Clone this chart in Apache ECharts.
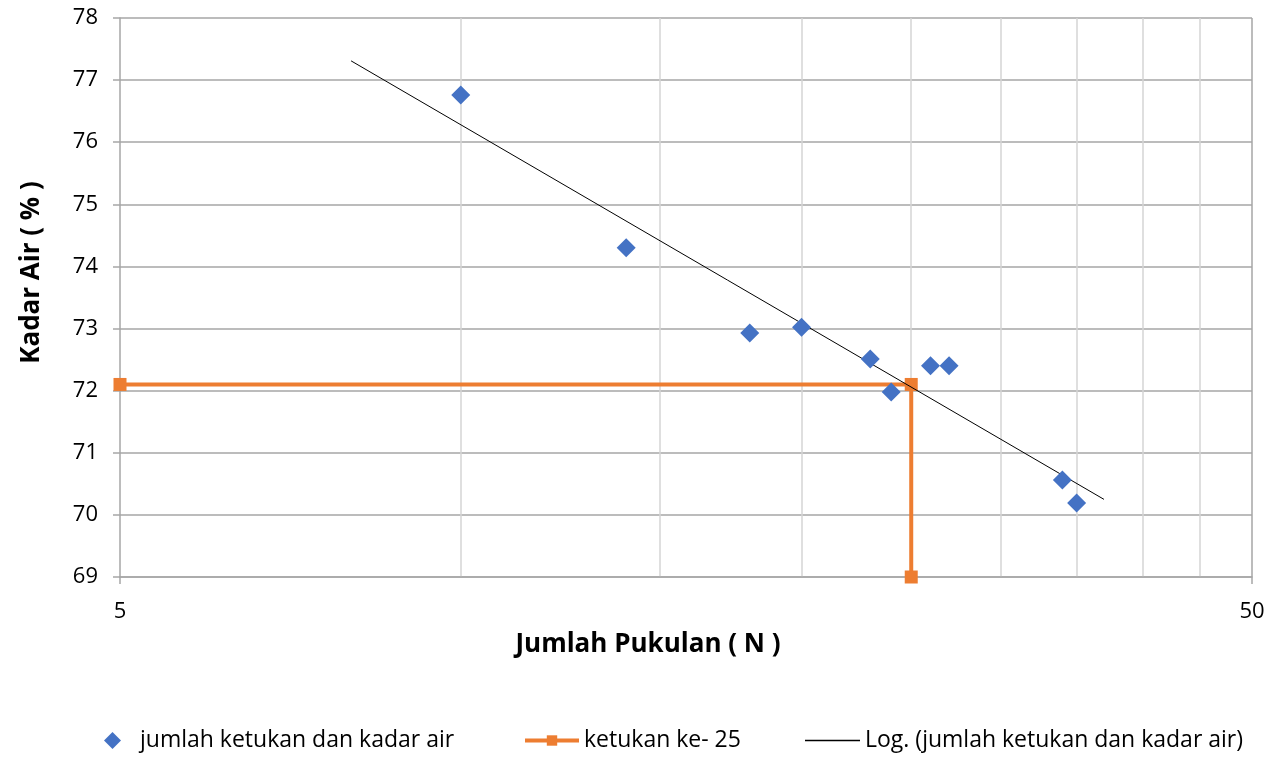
<!DOCTYPE html>
<html>
<head>
<meta charset="utf-8">
<script src="https://cdn.jsdelivr.net/npm/echarts@6/dist/echarts.min.js"></script>
<style>html,body{margin:0;padding:0;background:#fff}#c{width:1274px;height:757px}</style>
</head>
<body>
<div id="c"></div>
<script>
// Data
const blowCounts = [10, 14, 18, 20, 23, 24, 26, 27, 34, 35];
const waterContent = [76.76, 74.30, 72.93, 73.02, 72.51, 71.98, 72.40, 72.40, 70.56, 70.19];
const refX = [5, 25, 25];
const refY = [72.1, 72.1, 69];
const trendX = [8, 37];
const trendY = [77.31, 70.25];
const xTickLabels = [5, 50];
const minorGridX = [10, 15, 20, 25, 30, 35, 40, 45];
const majorGridX = [50];
const seriesNames = ['jumlah ketukan dan kadar air', 'ketukan ke- 25', 'Log. (jumlah ketukan dan kadar air)'];

const FONT = 'Open Sans';
const chart = echarts.init(document.getElementById('c'));
const zip = (a, b) => a.map((v, i) => [v, b[i]]);

const legendText = {fontFamily: FONT, fontSize: 23, color: '#000'};

chart.setOption({
  animation: false,
  grid: {left: 120, right: 22, top: 18, bottom: 180},
  xAxis: {
    type: 'log', logBase: 10, min: 5, max: 50,
    name: 'Jumlah Pukulan ( N )', nameLocation: 'middle', nameGap: 55,
    nameTextStyle: {fontFamily: FONT, fontSize: 26, fontWeight: 'bold', color: '#000', padding: [0, 76, 0, 0]},
    axisLine: {show: true, lineStyle: {color: '#a6a6a6', width: 1.5}},
    axisTick: {show: true, customValues: xTickLabels, length: 7, lineStyle: {color: '#a6a6a6', width: 1.5}},
    axisLabel: {customValues: xTickLabels, fontFamily: FONT, fontSize: 22, color: '#000', margin: 24},
    splitLine: {show: false}
  },
  yAxis: {
    type: 'value', min: 69, max: 78, interval: 1,
    name: 'Kadar Air ( % )', nameLocation: 'middle', nameGap: 75, nameRotate: 90,
    nameTextStyle: {fontFamily: FONT, fontSize: 26, fontWeight: 'bold', color: '#000', padding: [0, 0, 0, 50]},
    axisLine: {show: true, lineStyle: {color: '#a6a6a6', width: 1.5}},
    axisTick: {show: true, length: 7, lineStyle: {color: '#a6a6a6', width: 1.5}},
    axisLabel: {fontFamily: FONT, fontSize: 22, color: '#000', margin: 22},
    splitLine: {show: true, lineStyle: {color: '#a6a6a6', width: 1.5}}
  },
  legend: [
    {left: 99, bottom: 0, itemWidth: 17, itemHeight: 17,
     data: [{name: seriesNames[0], icon: 'diamond'}],
     textStyle: Object.assign({}, legendText, {padding: [0, 0, 0, 14]})},
    {left: 518, bottom: 0, itemWidth: 54, itemHeight: 13,
     lineStyle: {width: 4},
     data: [seriesNames[1]], textStyle: legendText},
    {left: 800, bottom: 0, itemWidth: 55, itemHeight: 1.3,
     data: [{name: seriesNames[2], icon: 'rect'}], textStyle: legendText}
  ],
  series: [
    {
      name: 'grid', type: 'line', data: [], z: 0, silent: true,
      markLine: {
        z: 0, silent: true, symbol: 'none', label: {show: false}, animation: false,
        data: minorGridX.map(v => ({xAxis: v, lineStyle: {color: '#d4d4d4', width: 1.5, type: 'solid'}}))
          .concat(majorGridX.map(v => ({xAxis: v, lineStyle: {color: '#a6a6a6', width: 1.5, type: 'solid'}})))
      }
    },
    {
      name: seriesNames[2], type: 'line', data: zip(trendX, trendY), z: 3,
      symbol: 'none', showSymbol: false,
      lineStyle: {color: '#000', width: 1}, itemStyle: {color: '#000'}
    },
    {
      name: seriesNames[1], type: 'line', data: zip(refX, refY), z: 2,
      symbol: 'rect', symbolSize: 13, showSymbol: true,
      lineStyle: {color: '#ED7D31', width: 4}, itemStyle: {color: '#ED7D31'}
    },
    {
      name: seriesNames[0], type: 'scatter', data: zip(blowCounts, waterContent), z: 4,
      symbol: 'diamond', symbolSize: [19, 19],
      itemStyle: {color: '#4472C4', opacity: 1}
    }
  ]
});
</script>
</body>
</html>
